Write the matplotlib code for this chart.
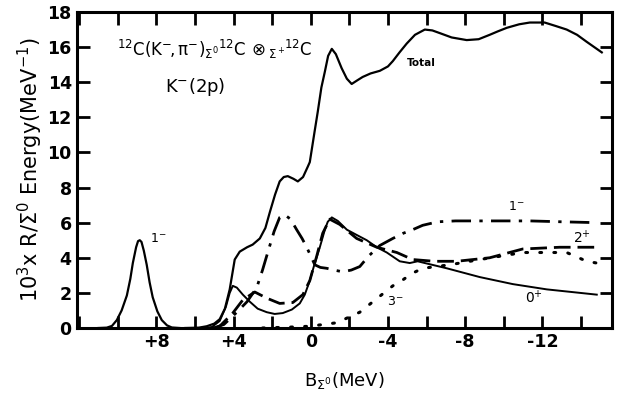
import numpy as np
import matplotlib
matplotlib.use("Agg")
import matplotlib.pyplot as plt
from matplotlib.ticker import MultipleLocator

# Dados (B em MeV, eixo invertido)
pico_B = [11.0, 10.57, 10.3, 10.05, 9.8, 9.53, 9.35, 9.22, 9.05, 8.95, 8.86,
          8.77, 8.65, 8.5, 8.35, 8.19, 7.95, 7.72, 7.45, 7.2, 6.8]
pico_y = [0.0, 0.02, 0.12, 0.45, 1.0, 1.85, 2.8, 3.7, 4.6, 4.95, 5.0,
          4.9, 4.4, 3.6, 2.6, 1.75, 0.95, 0.45, 0.15, 0.03, 0.0]

total_B = [6.5, 5.8, 5.39, 5.0, 4.72, 4.45, 4.2, 3.94, 3.68, 3.3, 3.01, 2.64,
           2.35, 2.12, 1.85, 1.61, 1.4, 1.19, 0.9, 0.67, 0.4, 0.15, 0.05,
           -0.2, -0.36, -0.55, -0.73, -0.9, -1.09, -1.3, -1.6, -1.87, -2.12,
           -2.4, -2.69, -3.1, -3.58, -4.0, -4.25, -4.6, -4.97, -5.4, -5.91,
           -6.3, -6.68, -7.3, -8.08, -8.7, -9.27, -9.7, -10.16, -10.8, -11.35,
           -12.12, -12.7, -13.26, -13.8, -14.3, -15.08]
total_y = [0.0, 0.02, 0.1, 0.25, 0.5, 1.1, 2.2, 3.9, 4.35, 4.6, 4.75, 5.1,
           5.7, 6.6, 7.6, 8.35, 8.6, 8.65, 8.5, 8.35, 8.6, 9.2, 9.45,
           11.2, 12.3, 13.7, 14.6, 15.5, 15.9, 15.6, 14.8, 14.2, 13.9,
           14.1, 14.3, 14.5, 14.65, 14.9, 15.2, 15.7, 16.2, 16.7, 17.0,
           16.95, 16.8, 16.55, 16.4, 16.45, 16.7, 16.9, 17.1, 17.3, 17.4,
           17.4, 17.2, 17.0, 16.7, 16.3, 15.7]

um_B = [5.2, 4.97, 4.5, 3.83, 3.3, 2.8, 2.5, 2.23, 1.9, 1.61, 1.35, 1.05,
        0.73, 0.45, 0.21, -0.21, -0.5, -0.83, -1.2, -1.66, -2.1, -2.54,
        -3.0, -3.58, -4.25, -4.8, -5.28, -5.8, -6.58, -7.5, -8.76, -11.35,
        -13.0, -14.82]
um_y = [0.0, 0.02, 0.2, 0.9, 1.5, 2.3, 3.3, 4.3, 5.5, 6.3, 6.45, 6.2,
        5.6, 5.1, 4.6, 3.6, 3.45, 3.4, 3.3, 3.2, 3.3, 3.5,
        4.1, 4.7, 5.1, 5.4, 5.6, 5.85, 6.05, 6.1, 6.1, 6.1,
        6.05, 6.0]

dois_B = [5.0, 4.72, 4.04, 3.52, 2.9, 2.28, 1.61, 0.93, 0.41, 0.05, -0.31,
          -0.62, -0.98, -1.5, -2.38, -3.42, -4.46, -5.28, -6.4, -7.56,
          -9.27, -10.98, -12.9, -14.82]
dois_y = [0.0, 0.1, 0.85, 1.6, 2.05, 1.7, 1.4, 1.45, 1.9, 2.7, 4.1,
          5.4, 6.2, 5.9, 5.1, 4.6, 4.3, 3.9, 3.8, 3.8,
          4.0, 4.5, 4.6, 4.6]

zero_B = [5.6, 5.13, 4.72, 4.4, 4.2, 4.04, 3.83, 3.52, 3.16, 2.75, 2.28,
          1.87, 1.45, 0.98, 0.57, 0.31, 0.05, -0.21, -0.47, -0.73, -0.88,
          -1.09, -1.4, -1.87, -2.38, -2.9, -3.42, -3.94, -4.61, -5.13,
          -5.54, -5.91, -7.05, -8.76, -10.47, -12.23, -14.82]
zero_y = [0.0, 0.05, 0.4, 1.2, 2.0, 2.4, 2.3, 1.9, 1.5, 1.1, 0.9,
          0.8, 0.85, 1.05, 1.4, 1.9, 2.7, 3.7, 4.6, 5.6, 6.05,
          6.3, 6.1, 5.6, 5.3, 5.0, 4.6, 4.3, 3.8, 3.7,
          3.8, 3.7, 3.4, 2.9, 2.5, 2.2, 1.9]

tres_B = [2.5, 1.09, 0.05, -1.35, -2.54, -3.68, -4.25, -4.72, -5.23, -5.8,
          -7.2, -8.76, -10.98, -13.26, -14.3, -14.82]
tres_y = [0.0, 0.05, 0.1, 0.3, 0.9, 1.9, 2.4, 2.7, 3.1, 3.4,
          3.6, 3.9, 4.3, 4.3, 3.8, 3.7]

xticks_val = [8, 4, 0, -4, -8, -12]
xticks_txt = ["+8", "+4", "0", "-4", "-8", "-12"]

plt.rcParams["font.family"] = ["DejaVu Sans"]
plt.rcParams["mathtext.fontset"] = "dejavusans"

fig = plt.figure(figsize=(6.18, 4.0), dpi=100)
ax = fig.add_axes([0.125, 0.18, 0.865, 0.79])

cor = "black"
ax.plot(pico_B, pico_y, color=cor, lw=1.6)
ax.plot(total_B, total_y, color=cor, lw=1.6)
ax.plot(zero_B, zero_y, color=cor, lw=1.4)
ax.plot(um_B, um_y, color=cor, lw=2.0, linestyle=(0, (7, 3, 1.2, 3)))
ax.plot(dois_B, dois_y, color=cor, lw=2.0, linestyle=(0, (6, 2.5)))
ax.plot(tres_B, tres_y, color=cor, lw=2.2, linestyle=(0, (0.6, 4)),
        dash_capstyle="round")

# eixos
ax.set_xlim(12.1, -15.6)
ax.set_ylim(0, 18)
ax.set_xticks(xticks_val)
ax.set_xticklabels(xticks_txt)
ax.xaxis.set_minor_locator(MultipleLocator(2))
ax.set_yticks(np.arange(0, 19, 2))
ax.tick_params(which="both", direction="in", top=True, right=True,
               width=2, length=9, labelsize=12.5)
ax.tick_params(axis="y", pad=4)
for lab in ax.get_xticklabels() + ax.get_yticklabels():
    lab.set_fontweight("bold")
for s in ax.spines.values():
    s.set_linewidth(2.2)

ax.set_ylabel(r"$\mathregular{10^3}$x R/$\mathregular{\Sigma^0}$ Energy(MeV$^{-1}$)",
              fontsize=15, labelpad=2)
ax.set_xlabel(r"B$_{\Sigma^0}$(MeV)", fontsize=13, labelpad=14)

# textos
ax.text(10.05, 15.5,
        r"$\mathregular{^{12}C(K^{-}\!,\pi^{-})_{\Sigma^0}{}^{12}C\,\otimes_{\Sigma^+}\!{}^{12}C}$",
        fontsize=12, ha="left", va="baseline")
ax.text(6.0, 13.7, r"K$^{-}$(2p)", fontsize=13, ha="center", va="center")
ax.text(-5.75, 15.1, "Total", fontsize=7.5, fontweight="bold",
        ha="center", va="center")
ax.text(8.34, 5.1, r"1$^{-}$", fontsize=9, ha="left", va="center")
ax.text(-10.2, 6.9, r"1$^{-}$", fontsize=9, ha="left", va="center")
ax.text(-13.6, 5.15, r"2$^{+}$", fontsize=10, ha="left", va="center")
ax.text(-11.1, 1.75, r"0$^{+}$", fontsize=10, ha="left", va="center")
ax.text(-3.94, 1.5, r"3$^{-}$", fontsize=9, ha="left", va="center")

fig.savefig("out.png", dpi=100)
